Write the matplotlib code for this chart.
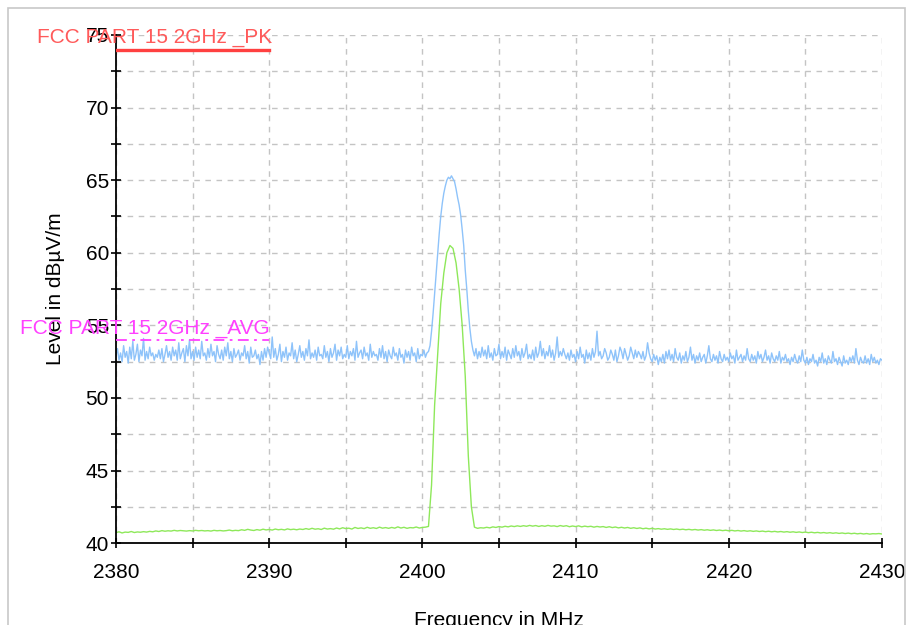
import matplotlib

matplotlib.use("Agg")
import matplotlib.pyplot as plt
import numpy as np
from matplotlib.patches import Rectangle

# peak trace, sampled every 0.1 MHz from 2380 to 2430
peak_level = [
    52.9, 53.4, 52.6, 53.1, 52.5, 53.6, 52.8, 53.2, 52.4, 53.5,
    52.7, 53.9, 52.6, 53.0, 53.7, 52.5, 53.3, 52.9, 54.1, 52.6,
    53.2, 52.7, 53.5, 52.9, 53.1, 52.6, 53.0, 52.8, 53.3, 52.7,
    53.4, 52.5, 53.0, 53.6, 52.8, 53.2, 52.6, 53.5, 52.9, 53.3,
    52.6, 53.8, 52.7, 53.1, 53.4, 52.5, 53.6, 52.9, 54.0, 52.7,
    53.2, 52.6, 53.5, 52.8, 53.3, 52.7, 53.9, 52.9, 53.1, 52.6,
    53.4, 52.8, 53.7, 52.9, 53.2, 52.5, 53.6, 53.0, 52.7, 53.3,
    52.6, 53.5, 52.9, 53.8, 52.7, 53.2, 52.5, 53.4, 52.8, 53.0,
    53.3, 52.6, 53.1, 52.9, 53.6, 52.7, 53.2, 52.4, 53.5, 52.8,
    52.9, 53.3, 52.7, 53.0, 52.3, 53.2, 52.6, 53.4, 52.8, 53.5,
    53.1, 52.7, 54.2, 52.8, 53.4, 52.6, 53.0, 53.7, 52.5, 53.2,
    52.8, 53.5, 52.6, 53.1, 52.9, 53.8, 52.7, 53.3, 52.5, 53.0,
    53.6, 52.8, 53.2, 52.6, 53.4, 52.9, 54.0, 52.7, 53.1, 52.8,
    53.3, 52.6, 53.5, 52.9, 53.0, 52.7, 53.6, 52.8, 53.2, 52.5,
    53.4, 52.8, 53.1, 53.7, 52.6, 53.3, 52.9, 53.5, 52.7, 53.0,
    52.8, 53.6, 52.7, 53.2, 52.9, 53.4, 52.6, 53.9, 52.8, 53.1,
    53.3, 52.7, 53.5, 52.9, 53.1, 52.6, 53.7, 52.8, 53.2, 52.9,
    53.0, 52.6, 53.4, 52.8, 53.6, 52.7, 53.2, 52.5, 53.3, 52.9,
    52.7, 53.5, 52.9, 53.1, 52.6, 53.4, 52.8, 53.0, 52.4, 53.3,
    52.8, 53.2, 52.6, 53.5, 52.9, 53.1, 52.5, 53.4, 52.7, 53.0,
    52.9, 53.3, 52.8, 53.1, 53.2, 53.6, 54.6, 55.8, 57.2, 58.6,
    60.0, 61.3, 62.5, 63.4, 64.1, 64.6, 65.0, 65.2, 65.1, 65.3,
    65.1, 64.9, 64.4, 63.8, 63.3, 62.6, 61.6, 60.5, 58.8, 57.5,
    56.0, 54.8, 53.9, 53.3, 52.9, 53.4, 52.7, 53.2, 52.8, 53.5,
    52.9, 53.3, 52.7, 53.6, 52.8, 53.1, 52.6, 53.4, 52.9, 53.0,
    53.7, 52.7, 53.2, 52.8, 53.5, 52.6, 53.3, 53.0, 52.7, 53.4,
    52.8, 53.6, 52.9, 53.2, 52.6, 53.4, 52.8, 53.1, 53.7, 52.7,
    53.0, 52.7, 53.3, 52.6, 53.5, 52.8, 53.1, 53.9, 52.9, 53.4,
    52.7, 53.2, 52.9, 53.6, 52.8, 53.3, 52.6, 53.1, 54.2, 52.8,
    53.2, 52.9, 53.4, 53.0, 52.7, 53.1, 52.6, 53.3, 52.8, 53.0,
    52.5, 53.2, 52.7, 53.5, 52.8, 53.0, 52.4, 53.3, 52.7, 53.1,
    52.6, 53.4, 52.8, 53.2, 54.6, 52.9, 53.2, 52.7, 52.9, 53.4,
    53.1, 52.6, 52.8, 53.3, 53.0, 52.6, 53.3, 52.5, 52.9, 53.5,
    53.2, 52.7, 53.4, 53.0, 52.6, 52.9, 53.5, 53.1, 52.7, 53.3,
    52.8, 53.2, 53.0, 52.7, 53.2, 52.6, 52.9, 53.8, 53.1, 52.7,
    52.5, 53.0, 52.6, 52.9, 52.3, 52.8, 52.5, 53.0, 52.4, 53.2,
    52.7, 53.3, 52.6, 53.0, 52.5, 53.4, 52.8, 52.6, 53.1, 52.4,
    52.9, 52.6, 53.2, 52.5, 52.8, 53.5, 52.6, 53.0, 52.4, 52.9,
    52.6, 53.1, 52.5, 52.8, 53.0, 52.4, 52.9, 53.6, 52.7, 52.5,
    53.0, 52.6, 52.9, 52.4, 53.2, 52.7, 52.5, 53.0, 52.6, 52.8,
    52.5, 53.1, 52.7, 52.9, 52.4, 53.3, 52.6, 52.8, 53.0, 52.5,
    52.9, 52.6, 53.4, 52.7, 52.5, 53.0, 52.6, 52.9, 52.4, 53.2,
    52.7, 53.0, 52.5, 52.8, 53.3, 52.6, 52.9, 52.4, 53.1, 52.7,
    52.5, 52.9, 52.6, 53.2, 52.4, 52.8, 52.6, 53.0, 52.5, 52.7,
    52.3, 52.8, 52.5, 53.0, 52.6, 52.4, 52.9, 52.5, 53.3, 52.6,
    52.4, 52.8, 52.3, 52.7, 52.5, 53.0, 52.4, 52.6, 52.2, 52.8,
    52.5, 53.1, 52.4, 52.7, 52.3, 52.9, 52.6, 52.4, 53.2, 52.5,
    52.7, 52.3, 52.8, 52.5, 52.2, 52.9, 52.4, 52.6, 52.3, 52.8,
    52.5, 52.9, 52.4, 53.4, 52.6, 52.3, 52.8, 52.5, 52.4, 52.9,
    52.4, 52.7, 52.3, 53.0, 52.5, 52.8, 52.4, 52.6, 52.3, 52.7,
    52.6,
]

# average trace, sampled every 0.2 MHz from 2380 to 2430
avg_level = [
    40.72, 40.78, 40.70, 40.76, 40.74, 40.80, 40.73, 40.77, 40.75, 40.79,
    40.76, 40.81, 40.78, 40.84, 40.80, 40.86, 40.82, 40.85, 40.83, 40.88,
    40.84, 40.87, 40.85, 40.83, 40.86, 40.84, 40.88, 40.85, 40.87, 40.84,
    40.86, 40.83, 40.88, 40.85, 40.87, 40.84, 40.86, 40.90, 40.85, 40.88,
    40.86, 40.92, 40.88, 40.95, 40.90, 40.87, 40.93, 40.89, 40.96, 40.91,
    40.94, 40.90, 40.97, 40.92, 40.95, 40.91, 40.98, 40.93, 40.96, 40.92,
    40.97, 40.94, 41.00, 40.95, 41.02, 40.96, 40.99, 40.94, 41.03, 40.97,
    41.00, 40.96, 41.04, 40.98, 41.06, 41.00, 41.03, 40.97, 41.08, 41.01,
    41.05, 41.00, 41.09, 41.02, 41.06, 41.01, 41.10, 41.03, 41.07, 41.02,
    41.08, 41.03, 41.12, 41.04, 41.09, 41.02, 41.07, 41.05, 41.11, 41.04,
    41.08, 41.10, 41.15, 44.0, 49.5, 53.0, 56.5, 58.6, 60.0, 60.5,
    60.3, 59.3, 57.5, 55.0, 51.5, 46.0, 42.5, 41.10, 41.02, 41.06,
    41.04, 41.09, 41.05, 41.12, 41.08, 41.14, 41.10, 41.16, 41.12, 41.18,
    41.14, 41.19, 41.15, 41.20, 41.16, 41.22, 41.17, 41.21, 41.15, 41.20,
    41.16, 41.22, 41.17, 41.19, 41.14, 41.21, 41.16, 41.20, 41.13, 41.18,
    41.14, 41.19, 41.12, 41.17, 41.13, 41.16, 41.10, 41.15, 41.11, 41.14,
    41.08, 41.13, 41.07, 41.11, 41.05, 41.09, 41.04, 41.08, 41.02, 41.06,
    41.01, 41.05, 40.99, 41.03, 40.98, 41.02, 40.97, 41.00, 40.96, 40.99,
    40.95, 40.98, 40.94, 40.97, 40.93, 40.96, 40.92, 40.95, 40.91, 40.94,
    40.90, 40.93, 40.89, 40.92, 40.88, 40.91, 40.87, 40.90, 40.86, 40.89,
    40.85, 40.88, 40.84, 40.87, 40.83, 40.86, 40.82, 40.85, 40.81, 40.84,
    40.80, 40.83, 40.79, 40.82, 40.78, 40.81, 40.77, 40.80, 40.76, 40.79,
    40.75, 40.78, 40.74, 40.77, 40.73, 40.76, 40.72, 40.75, 40.71, 40.74,
    40.70, 40.73, 40.69, 40.72, 40.68, 40.71, 40.67, 40.70, 40.66, 40.69,
    40.65, 40.68, 40.64, 40.67, 40.63, 40.66, 40.62, 40.65, 40.64, 40.66,
    40.63,
]

freq_start, freq_stop = 2380, 2430
limit_span = [2380, 2390]
pk_limit = 74
avg_limit = 54
pk_label = "FCC PART 15 2GHz _PK"
avg_label = "FCC PART 15 2GHz _AVG"

freq_pk = np.linspace(freq_start, freq_stop, len(peak_level))
freq_avg = np.linspace(freq_start, freq_stop, len(avg_level))

plt.rcParams["font.family"] = ["Liberation Sans", "DejaVu Sans"]

fig = plt.figure(figsize=(9.13, 6.25), dpi=100)
fig.patches.append(Rectangle((8 / 913, -0.1), 897 / 913, 1.1 - 8 / 625,
                             transform=fig.transFigure, fill=False,
                             edgecolor="#c8c8c8", linewidth=1.2))
ax = fig.add_axes([0.127, 0.131, 0.839, 0.813])

ax.plot(freq_pk, peak_level, color="#8ec3fa", linewidth=1.0, zorder=3)
ax.plot(freq_avg, avg_level, color="#8ee85a", linewidth=1.0, zorder=3)

ax.plot(limit_span, [pk_limit, pk_limit], color="#ff4040", linewidth=2.4, zorder=4)
ax.plot(limit_span, [avg_limit, avg_limit], color="#ff40ff", linewidth=1.3,
        linestyle=(0, (6, 3, 1.5, 3)), zorder=4)
ax.annotate(pk_label, (2390.2, pk_limit), xytext=(0, 2), textcoords="offset points",
            ha="right", va="bottom", color="#ff5a5a", fontsize=15, annotation_clip=False,
            zorder=5)
ax.annotate(avg_label, (2390.0, avg_limit), xytext=(0, 1), textcoords="offset points",
            ha="right", va="bottom", color="#ff40ff", fontsize=15, annotation_clip=False,
            zorder=5)

ax.set_xlim(freq_start, freq_stop)
ax.set_ylim(40, 75)
xt = np.arange(2380, 2431, 5)
yt = np.arange(40, 75.1, 2.5)
ax.set_xticks(xt)
ax.set_xticklabels([str(v) if v % 10 == 0 else "" for v in xt])
ax.set_yticks(yt)
ax.set_yticklabels([f"{v:g}" if v % 5 == 0 else "" for v in yt])
ax.tick_params(direction="inout", length=7, width=1.2, labelsize=15, colors="black")
ax.tick_params(axis="x", pad=11)
ax.tick_params(axis="y", pad=1.5)

ax.grid(True, color="#c4c4c4", linestyle=(0, (4, 4)), linewidth=1.0)
ax.set_axisbelow(True)
for side in ["top", "right"]:
    ax.spines[side].set_visible(False)
for side in ["left", "bottom"]:
    ax.spines[side].set_linewidth(1.3)
    ax.spines[side].set_zorder(3.5)

ax.set_xlabel("Frequency in MHz", fontsize=15, labelpad=21)
ax.set_ylabel("Level in dBµV/m", fontsize=15, labelpad=15)

fig.savefig("out.png", dpi=100)
